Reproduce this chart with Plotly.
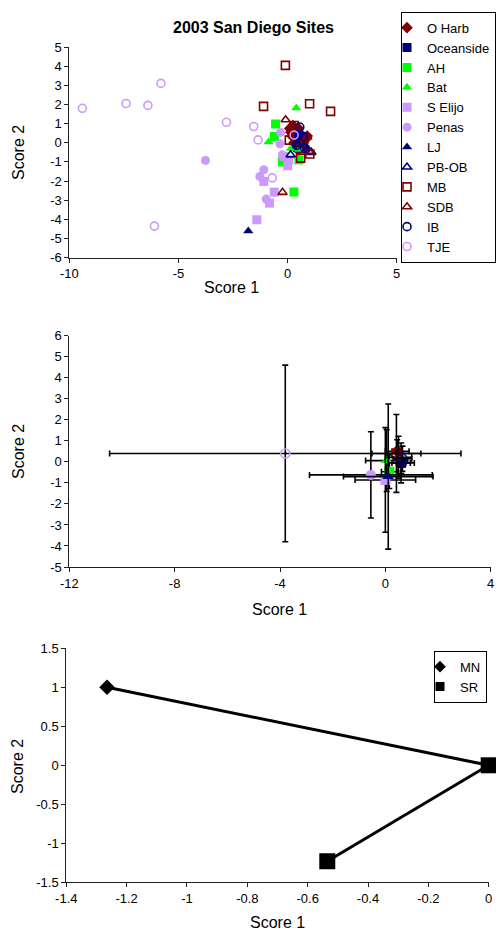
import plotly.graph_objects as go

W, H = 496, 930
FONT = "Liberation Sans, Arial, sans-serif"

# ---------------- site ordination scores (top panel) ----------------
sites = ["O Harb", "Oceanside", "AH", "Bat", "S Elijo", "Penas",
         "LJ", "PB-OB", "MB", "SDB", "IB", "TJE"]

oharb_x = [0.1, 0.25, 0.35, 0.5, 0.2, 0.45, 0.65, 0.8, 0.6, 0.3, 0.75, 0.9, 0.5, 0.15]
oharb_y = [0.75, 0.9, 0.55, 0.75, 0.35, 0.2, 0.4, 0.15, -0.05, 0.0, -0.3, 0.35, -0.4, 0.55]
oceanside_x = [0.55, 0.7, 0.45, 0.65]
oceanside_y = [0.1, -0.15, -0.25, 0.3]
ah_x = [-0.55, -0.6, 0.29, -0.24, 0.52]
ah_y = [0.98, 0.33, -2.57, -1.0, -0.89]
bat_x = [0.4, -0.87, 0.55, 0.15, 0.0]
bat_y = [1.81, 0.04, -0.35, -0.3, -0.9]
selijo_x = [-1.41, -0.83, -0.61, -1.09, 0.01, -0.17, 0.06]
selijo_y = [-4.02, -3.15, -2.58, -2.02, -1.2, -0.71, -0.89]
penas_x = [-3.76, -1.09, -1.27, -0.98, -0.32, -0.35, -0.24]
penas_y = [-0.92, -1.41, -1.76, -2.94, 0.54, -0.05, -0.63]
lj_x = [-1.8, 0.4, 0.6, 0.5, 0.55]
lj_y = [-4.6, 0.3, -0.1, 0.5, 0.2]
pbob_x = [0.14, 1.09, 0.9, 0.6]
pbob_y = [-0.63, -0.5, -0.3, 0.0]
mb_x = [-0.1, -1.1, 1.01, 1.97, 0.6, 0.08, 1.02, 0.3]
mb_y = [4.04, 1.9, 2.04, 1.64, -0.8, 0.14, -0.59, 0.9]
sdb_x = [-0.09, -0.23, 1.0, 0.9, 0.6, 0.75]
sdb_y = [1.2, -2.59, -0.45, 0.3, -0.1, 0.1]
ib_x = [0.56, 0.72, 0.41, 0.78, 0.55]
ib_y = [0.82, 0.33, -0.14, -0.28, 0.0]
tje_x = [-9.4, -7.4, -6.4, -5.8, -6.1, -2.8, -1.55, -1.35, -0.7, 0.3]
tje_y = [1.8, 2.05, 1.95, 3.1, -4.35, 1.07, 0.85, 0.15, -1.83, 0.4]

site_x = [oharb_x, oceanside_x, ah_x, bat_x, selijo_x, penas_x,
          lj_x, pbob_x, mb_x, sdb_x, ib_x, tje_x]
site_y = [oharb_y, oceanside_y, ah_y, bat_y, selijo_y, penas_y,
          lj_y, pbob_y, mb_y, sdb_y, ib_y, tje_y]

# ---------------- site means and standard deviations (middle panel) ----------------
mean_x = [0.45, 0.6, 0.15, 0.05, 0.0, -0.55, 0.11, 0.6, 0.42, 0.5, 0.65, -3.8]
mean_y = [0.5, -0.05, -0.47, 0.06, -0.86, -0.62, -0.7, -0.05, 0.4, 0.22, 0.15, 0.4]
sd_x = [0.45, 0.35, 0.3, 0.8, 1.15, 2.33, 1.7, 0.5, 0.93, 0.5, 0.35, 6.67]
sd_y = [0.55, 0.5, 0.8, 1.47, 2.49, 2.05, 3.45, 0.95, 1.85, 1.0, 0.6, 4.2]

# ---------------- group trajectories (bottom panel) ----------------
groups = ["MN", "SR"]
mn_x = [-1.265, 0.0]
mn_y = [1.0, 0.0]
sr_x = [-0.535, 0.0]
sr_y = [-1.23, 0.0]

# ---------------- tick labels ----------------
top_xticks = [-10, -5, 0, 5]
top_xtext = ["-10", "-5", "0", "5"]
top_yticks = [5, 4, 3, 2, 1, 0, -1, -2, -3, -4, -5, -6]
top_ytext = ["5", "4", "3", "2", "1", "0", "-1", "-2", "-3", "-4", "-5", "-6"]
mid_xticks = [-12, -8, -4, 0, 4]
mid_xtext = ["-12", "-8", "-4", "0", "4"]
mid_yticks = [6, 5, 4, 3, 2, 1, 0, -1, -2, -3, -4, -5]
mid_ytext = ["6", "5", "4", "3", "2", "1", "0", "-1", "-2", "-3", "-4", "-5"]
bot_xticks = [-1.4, -1.2, -1.0, -0.8, -0.6, -0.4, -0.2, 0.0]
bot_xtext = ["-1.4", "-1.2", "-1", "-0.8", "-0.6", "-0.4", "-0.2", "0"]
bot_yticks = [1.5, 1.0, 0.5, 0.0, -0.5, -1.0, -1.5]
bot_ytext = ["1.5", "1", "0.5", "0", "-0.5", "-1", "-1.5"]

# marker style per site
MAROON, NAVY, GREEN, LILAC = "#800000", "#000080", "#00FF00", "#CC99FF"
site_style = [
    ("diamond", MAROON, True),
    ("square", NAVY, True),
    ("square", GREEN, True),
    ("triangle-up", GREEN, True),
    ("square", LILAC, True),
    ("circle", LILAC, True),
    ("triangle-up", NAVY, True),
    ("triangle-up-open", NAVY, False),
    ("square-open", MAROON, False),
    ("triangle-up-open", MAROON, False),
    ("circle-open", NAVY, False),
    ("circle-open", LILAC, False),
]


def px_x(p):
    return p / W


def px_y(p):
    return 1 - p / H


fig = go.Figure()

# top panel: individual samples
for name, xs, ys, (sym, col, filled) in zip(sites, site_x, site_y, site_style):
    fig.add_trace(go.Scatter(
        x=xs, y=ys, mode="markers", name=name, xaxis="x", yaxis="y",
        legend="legend", cliponaxis=False,
        marker=dict(symbol=sym, size=9 if filled else 8, color=col,
                    line=dict(color=col, width=0 if filled else 1.6)),
    ))

# middle panel: site means with +/- 1 SD bars
for name, mx, my, ex, ey, (sym, col, filled) in zip(sites, mean_x, mean_y, sd_x, sd_y, site_style):
    fig.add_trace(go.Scatter(
        x=[mx], y=[my], mode="markers", name=name, xaxis="x2", yaxis="y2",
        showlegend=False, cliponaxis=False,
        marker=dict(symbol=sym, size=10 if filled else 9, color=col,
                    line=dict(color=col, width=0 if filled else 1.6)),
        error_x=dict(type="data", array=[ex], color="black", thickness=1.6, width=3),
        error_y=dict(type="data", array=[ey], color="black", thickness=1.6, width=3),
    ))

# bottom panel: trajectories
fig.add_trace(go.Scatter(
    x=mn_x, y=mn_y, mode="lines+markers", name="MN", xaxis="x3", yaxis="y3",
    showlegend=False, cliponaxis=False,
    line=dict(color="black", width=3),
    marker=dict(symbol="diamond", size=12, color="black"),
))
fig.add_trace(go.Scatter(
    x=sr_x, y=sr_y, mode="lines+markers", name="SR", xaxis="x3", yaxis="y3",
    showlegend=False, cliponaxis=False,
    line=dict(color="black", width=3),
    marker=dict(symbol="square", size=16, color="black"),
))
# legend keys for the bottom panel
for name, sym in zip(groups, ["diamond", "square"]):
    fig.add_trace(go.Scatter(
        x=[None], y=[None], mode="markers", name=name, xaxis="x3", yaxis="y3",
        legend="legend2", marker=dict(symbol=sym, size=9, color="black"),
    ))


def axis(domain, rng, tv, tt, anchor):
    return dict(
        domain=domain, range=rng, tickmode="array", tickvals=tv, ticktext=tt,
        showgrid=False, zeroline=False, showline=True, linecolor="#222",
        linewidth=1, ticks="outside", ticklen=4, tickcolor="#222",
        tickfont=dict(size=13, color="black", family=FONT), anchor=anchor,
        fixedrange=True, automargin=False,
    )


fig.update_layout(
    width=W, height=H,
    margin=dict(l=0, r=0, t=0, b=0, autoexpand=False),
    paper_bgcolor="white", plot_bgcolor="white",
    font=dict(family=FONT, color="black", size=13),
    xaxis=axis([px_x(69.3), px_x(396.7)], [-10, 5], top_xticks, top_xtext, "y"),
    yaxis=axis([px_y(257.7), px_y(47)], [-6, 5], top_yticks, top_ytext, "x"),
    xaxis2=axis([px_x(69.3), px_x(490.7)], [-12, 4], mid_xticks, mid_xtext, "y2"),
    yaxis2=axis([px_y(567), px_y(335.7)], [-5, 6], mid_yticks, mid_ytext, "x2"),
    xaxis3=axis([px_x(66.3), px_x(488.7)], [-1.4, 0], bot_xticks, bot_xtext, "y3"),
    yaxis3=axis([px_y(882.3), px_y(648.3)], [-1.5, 1.5], bot_yticks, bot_ytext, "x3"),
    legend=dict(
        x=1.0, y=px_y(11.7), xanchor="right", yanchor="top",
        bgcolor="white", bordercolor="black", borderwidth=1,
        font=dict(size=13, family=FONT), tracegroupgap=0, indentation=-15,
    ),
    legend2=dict(
        x=px_x(487), y=px_y(650.7), xanchor="right", yanchor="top",
        bgcolor="white", bordercolor="black", borderwidth=1,
        font=dict(size=13, family=FONT), tracegroupgap=0, indentation=-15,
    ),
    showlegend=True,
)

annotations = [
    dict(text="<b>2003 San Diego Sites</b>", x=px_x(253), y=px_y(27), font=dict(size=16)),
    dict(text="Score 1", x=px_x(231), y=px_y(287), font=dict(size=16)),
    dict(text="Score 2", x=px_x(18), y=px_y(153), font=dict(size=16), textangle=-90),
    dict(text="Score 1", x=px_x(279), y=px_y(609), font=dict(size=16)),
    dict(text="Score 2", x=px_x(18), y=px_y(452), font=dict(size=16), textangle=-90),
    dict(text="Score 1", x=px_x(277), y=px_y(922), font=dict(size=16)),
    dict(text="Score 2", x=px_x(17), y=px_y(767), font=dict(size=16), textangle=-90),
]
for a in annotations:
    a.update(xref="paper", yref="paper", showarrow=False, xanchor="center", yanchor="middle")
    a["font"]["family"] = FONT
    a["font"]["color"] = "black"
fig.update_layout(annotations=annotations)

fig.write_html("out.html")
